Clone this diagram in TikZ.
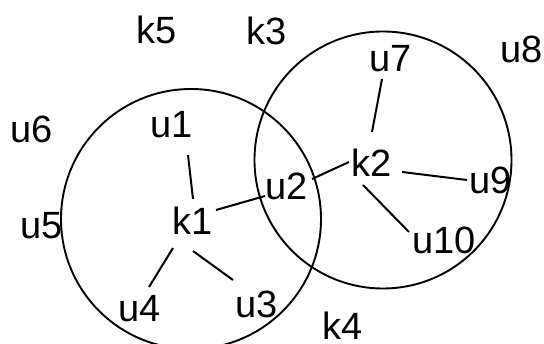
\documentclass[tikz,border=0pt]{standalone}
\usepackage{fontspec}
\setmainfont{Liberation Sans}
\usetikzlibrary{calc}
\tikzset{
  lbl/.style={anchor=base, inner sep=0pt, font=\fontsize{38}{40}\selectfont},
  ring/.style={draw=black, line width=1.9pt},
  link/.style={draw=black, line width=2pt}
}
\begin{document}
\begin{tikzpicture}[x=1pt,y=-1pt]
\useasboundingbox (0,0) rectangle (544,344);
\clip (0,0) rectangle (544,344);
\fill[white] (0,0) rectangle (544,344);
% circles
\node[ring, circle, minimum size=260pt, inner sep=0pt] (cl) at (191,219) {};
\node[ring, circle, minimum size=257pt, inner sep=0pt] (cr) at (383,160) {};
% labels
\node[lbl] (k5) at (157,44) {k5};
\node[lbl] (k3) at (267,45) {k3};
\node[lbl] (u8) at (522,63) {u8};
\node[lbl] (u7) at (391,72) {u7};
\node[lbl] (u6) at (32,143) {u6};
\node[lbl] (u1) at (172,138) {u1};
\node[lbl] (k2) at (372,177) {k2};
\node[lbl] (u9) at (491,194) {u9};
\node[lbl] (u2) at (287,200) {u2};
\node[lbl] (u5) at (42,239) {u5};
\node[lbl] (k1) at (193,235) {k1};
\node[lbl] (u10) at (444,254) {u10};
\node[lbl] (u4) at (140,322) {u4};
\node[lbl] (u3) at (257,318) {u3};
\node[lbl] (k4) at (343,340) {k4};
% connectors
\draw[link] ($(u1.base)+(16,17)$) -- ($(k1.base)+(0,-36)$);
\draw[link] ($(k1.base)+(23,-25)$) -- ($(u2.base)+(-22,-4)$);
\draw[link] ($(u2.base)+(25,-21)$) -- ($(k2.base)+(-23,-15)$);
\draw[link] ($(u7.base)+(-9,7)$) -- ($(k2.base)+(0,-45)$);
\draw[link] ($(k2.base)+(30,-5)$) -- ($(u9.base)+(-24,-14)$);
\draw[link] ($(k2.base)+(-9,8)$) -- ($(u10.base)+(-35,-22)$);
\draw[link] ($(k1.base)+(-20,13)$) -- ($(u4.base)+(9,-35)$);
\draw[link] ($(k1.base)+(0,16)$) -- ($(u3.base)+(-24,-38)$);
\end{tikzpicture}
\end{document}
